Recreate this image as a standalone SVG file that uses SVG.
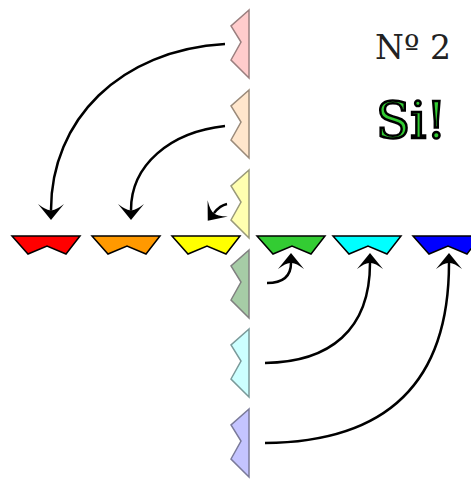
<svg xmlns="http://www.w3.org/2000/svg" width="471" height="479" viewBox="0 0 471 479">
<style>
.h{stroke:#000;stroke-width:1.5;stroke-linejoin:miter}
.v{stroke-width:1.5;stroke-linejoin:miter}
.c{fill:none;stroke:#000;stroke-width:2.5;marker-end:url(#ah)}
.t{font-family:"DejaVu Serif","Liberation Serif",serif}
</style>
<defs>
<marker id="ah" markerUnits="userSpaceOnUse" viewBox="-1 -14 19 28" markerWidth="19" markerHeight="28" refX="6" refY="0" orient="auto">
<path d="M16,0 L0,-13 Q7,-4 6,0 Q7,4 0,13 Z" fill="#000"/>
</marker>
</defs>
<g id="v-pink"><polygon class="v" fill="#ffcccc" stroke="#9a7f7f" points="249,10 231,26 241,42 231,60 249,78"/></g>
<g id="v-peach"><polygon class="v" fill="#ffe6cc" stroke="#9a8a7a" points="249,90 231,106 241,122 231,140 249,158"/></g>
<g id="v-yellow"><polygon class="v" fill="#ffffb0" stroke="#99997a" points="249,170 231,186 241,202 231,220 249,238"/></g>
<g id="v-green"><polygon class="v" fill="#a6cca6" stroke="#808080" points="249,250 231,266 241,282 231,300 249,318"/></g>
<g id="v-cyan"><polygon class="v" fill="#ccffff" stroke="#7a9999" points="249,329 231,345 241,361 231,379 249,397"/></g>
<g id="v-blue"><polygon class="v" fill="#c4c4ff" stroke="#7a7a99" points="249,409 231,425 241,441 231,459 249,477"/></g>
<g id="h-red"><polygon class="h" fill="#ff0000" points="12,236 80,236 66,254 47,246 28,254"/></g>
<g id="h-orange"><polygon class="h" fill="#ff9900" points="92,236 160,236 146,254 127,246 108,254"/></g>
<g id="h-yellow"><polygon class="h" fill="#ffff00" points="172,236 240,236 226,254 207,246 188,254"/></g>
<g id="h-green"><polygon class="h" fill="#33cc33" points="257,236 325,236 311,254 292,246 273,254"/></g>
<g id="h-cyan"><polygon class="h" fill="#00ffff" points="333,236 401,236 387,254 368,246 349,254"/></g>
<g id="h-blue"><polygon class="h" fill="#0000ff" points="413,236 481,236 467,254 448,246 429,254"/></g>
<g id="connectors">
<path class="c" d="M225,44 C120,50 51,120 51,210"/>
<path class="c" d="M225,126 C170,132 131,165 131,210"/>
<path class="c" d="M227,204 C222,205 218,208 214,213"/>
<path class="c" d="M267,283 C283,283 291,276 291,263"/>
<path class="c" d="M265,363 C330,362 370,330 370,263"/>
<path class="c" d="M265,443 C390,442 449,380 449,263"/>
</g>
<g id="labels">
<text class="t" x="375" y="59" font-size="33" fill="#222">Nº 2</text>
<text class="t" x="376" y="138" font-size="50" fill="#33cc33" stroke="#000" stroke-width="2.5">Si!</text>
</g>
</svg>
